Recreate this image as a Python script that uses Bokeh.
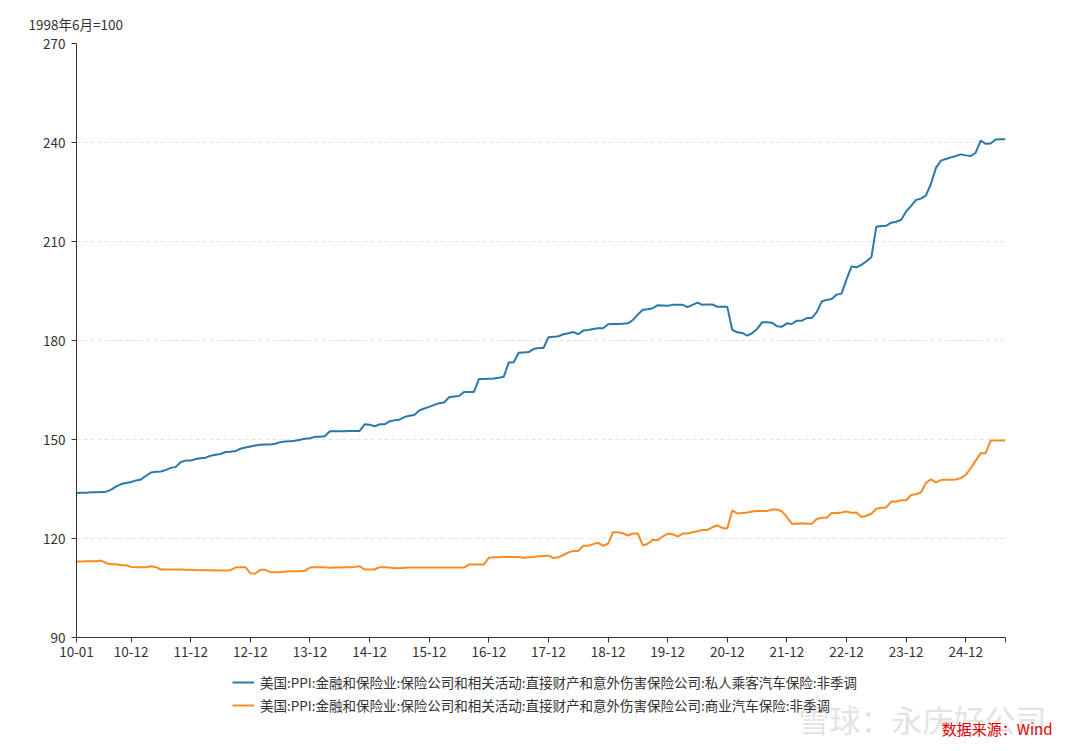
import numpy as np
from bokeh.plotting import figure
from bokeh.layouts import column
from bokeh.models import FixedTicker, Legend, LegendItem, Range1d, Title, Label
from bokeh.embed import file_html
from bokeh.resources import INLINE

# ---- data (monthly, 2010-01 .. 2025-08) ----
start_year = 2010
private_auto = [
    133.8, 133.9, 133.9, 134.0, 134.0, 134.1, 134.2, 134.8, 135.8, 136.5, 136.8, 137.1,  # 2010
    137.6, 137.9, 139.0, 140.0, 140.2, 140.3, 140.8, 141.4, 141.7, 143.2, 143.6, 143.6,  # 2011
    144.1, 144.3, 144.5, 145.1, 145.4, 145.6, 146.2, 146.3, 146.5, 147.2, 147.6, 147.9,  # 2012
    148.2, 148.4, 148.5, 148.5, 148.7, 149.2, 149.4, 149.5, 149.6, 149.9, 150.2, 150.4,  # 2013
    150.8, 150.8, 151.0, 152.5, 152.5, 152.5, 152.5, 152.6, 152.6, 152.6, 154.6, 154.5,  # 2014
    154.0, 154.6, 154.6, 155.5, 155.8, 156.0, 156.8, 157.2, 157.4, 158.8, 159.4, 159.9,  # 2015
    160.5, 161.0, 161.2, 162.8, 163.0, 163.2, 164.4, 164.4, 164.4, 168.3, 168.3, 168.4,  # 2016
    168.5, 168.7, 169.0, 173.3, 173.4, 176.3, 176.4, 176.5, 177.4, 177.7, 177.7, 181.0,  # 2017
    181.1, 181.3, 181.9, 182.2, 182.6, 181.9, 183.0, 183.2, 183.5, 183.7, 183.7, 184.9,  # 2018
    185.0, 185.0, 185.1, 185.2, 186.2, 187.9, 189.3, 189.5, 189.8, 190.7, 190.6, 190.5,  # 2019
    190.8, 190.8, 190.8, 190.1, 190.8, 191.5, 190.8, 190.9, 190.9, 190.2, 190.2, 190.2,  # 2020
    183.2, 182.5, 182.3, 181.5, 182.2, 183.5, 185.5, 185.5, 185.4, 184.3, 184.2, 185.2,  # 2021
    185.0, 186.0, 186.0, 186.8, 186.8, 188.6, 191.8, 192.3, 192.6, 193.9, 194.2, 198.5,  # 2022
    202.4, 202.2, 202.9, 204.0, 205.2, 214.5, 214.7, 214.8, 215.7, 216.0, 216.6, 219.1,  # 2023
    220.8, 222.6, 223.0, 224.0, 227.5, 232.3, 234.5, 235.0, 235.5, 235.9, 236.4, 236.1,  # 2024
    235.9, 236.9, 240.6, 239.6, 239.7, 240.9, 241.0, 241.0,                              # 2025
]
commercial_auto = [
    113.0, 113.0, 113.1, 113.1, 113.1, 113.3, 112.5, 112.2, 112.2, 111.9, 111.9, 111.4,  # 2010
    111.3, 111.3, 111.3, 111.6, 111.3, 110.6, 110.6, 110.6, 110.6, 110.6, 110.5, 110.5,  # 2011
    110.4, 110.4, 110.4, 110.4, 110.3, 110.3, 110.3, 110.4, 111.2, 111.3, 111.3, 109.5,  # 2012
    109.4, 110.5, 110.5, 109.8, 109.8, 109.8, 110.0, 110.1, 110.1, 110.1, 110.2, 111.2,  # 2013
    111.3, 111.3, 111.3, 111.1, 111.2, 111.2, 111.3, 111.3, 111.4, 111.6, 110.6, 110.6,  # 2014
    110.6, 111.3, 111.3, 111.2, 111.0, 111.0, 111.1, 111.2, 111.2, 111.2, 111.2, 111.2,  # 2015
    111.2, 111.2, 111.2, 111.2, 111.2, 111.2, 111.2, 112.1, 112.1, 112.1, 112.1, 114.2,  # 2016
    114.3, 114.3, 114.4, 114.4, 114.4, 114.4, 114.2, 114.3, 114.4, 114.6, 114.7, 114.8,  # 2017
    114.1, 114.3, 115.0, 115.8, 116.2, 116.2, 117.8, 117.8, 118.3, 118.7, 117.8, 118.4,  # 2018
    121.9, 121.9, 121.6, 120.9, 121.5, 121.5, 117.9, 118.4, 119.6, 119.5, 120.6, 121.5,  # 2019
    121.3, 120.6, 121.5, 121.5, 121.9, 122.2, 122.6, 122.6, 123.4, 124.0, 123.2, 123.0,  # 2020
    128.5, 127.6, 127.7, 127.9, 128.2, 128.3, 128.3, 128.3, 128.8, 128.8, 128.2, 126.5,  # 2021
    124.5, 124.5, 124.6, 124.5, 124.5, 125.9, 126.3, 126.3, 127.7, 127.7, 127.9, 128.2,  # 2022
    127.8, 127.9, 126.5, 126.9, 127.5, 129.0, 129.3, 129.4, 131.2, 131.2, 131.6, 131.6,  # 2023
    133.2, 133.4, 134.0, 136.9, 137.9, 137.0, 137.7, 137.8, 137.8, 137.9, 138.3, 139.3,  # 2024
    141.3, 143.6, 145.8, 145.8, 149.7, 149.7, 149.7, 149.7,                              # 2025
]
x_tick_labels = ["10-01", "10-12", "11-12", "12-12", "13-12", "14-12", "15-12", "16-12",
                 "17-12", "18-12", "19-12", "20-12", "21-12", "22-12", "23-12", "24-12"]
y_ticks = [90, 120, 150, 180, 210, 240, 270]
series_names = [
    "美国:PPI:金融和保险业:保险公司和相关活动:直接财产和意外伤害保险公司:私人乘客汽车保险:非季调",
    "美国:PPI:金融和保险业:保险公司和相关活动:直接财产和意外伤害保险公司:商业汽车保险:非季调",
]
y_unit = "1998年6月=100"
source_text = "数据来源：Wind"
watermark = "雪球：永庆好公司"

n = len(private_auto)
month_labels = ["%02d-%02d" % ((start_year + i // 12) % 100, i % 12 + 1) for i in range(n)]
xs = list(range(n))

CJK = "Noto Sans CJK SC"
BLUE = "#2a79a9"
ORANGE = "#f98b22"
TXT = "#333333"
W = 1072
H_TOP = 665
H_BOT = 78

# ---------------- main chart ----------------
p = figure(width=W, height=H_TOP, output_backend="svg", toolbar_location=None,
           x_range=Range1d(0, n - 1), y_range=Range1d(y_ticks[0], y_ticks[-1]),
           min_border_left=76, min_border_right=67, min_border_top=43, min_border_bottom=28)
p.frame_align = False
p.outline_line_color = None
p.background_fill_color = "white"
p.border_fill_color = "white"

p.line(xs, private_auto, line_color=BLUE, line_width=2)
p.line(xs, commercial_auto, line_color=ORANGE, line_width=2)

tick_pos = [month_labels.index(t) for t in x_tick_labels] + [n - 1]
overrides = {pos: lab for pos, lab in zip(tick_pos, x_tick_labels)}
overrides[n - 1] = ""
p.xaxis.ticker = FixedTicker(ticks=tick_pos)
p.xaxis.major_label_overrides = overrides
p.yaxis.ticker = FixedTicker(ticks=y_ticks)

for ax in (p.xaxis, p.yaxis):
    ax.axis_line_color = TXT
    ax.axis_line_width = 1
    ax.major_tick_line_color = TXT
    ax.major_tick_out = 5
    ax.major_tick_in = 0
    ax.minor_tick_line_color = None
    ax.major_label_text_font = CJK
    ax.major_label_text_font_size = "13.5px"
    ax.major_label_text_color = TXT
p.xaxis.major_label_standoff = 4
p.yaxis.major_label_standoff = 6

p.xgrid.grid_line_color = None
p.ygrid.grid_line_color = "#e3e3e3"
p.ygrid.grid_line_dash = "4 3"

p.add_layout(Title(text=y_unit, align="left", offset=-48, standoff=20,
                   text_font=CJK, text_font_size="13.5px", text_font_style="normal",
                   text_color=TXT), "above")

# ---------------- legend / source strip ----------------
q = figure(width=W, height=H_BOT, output_backend="svg", toolbar_location=None,
           x_range=Range1d(0, 1), y_range=Range1d(0, 1), x_axis_type=None, y_axis_type=None,
           min_border_left=0, min_border_right=0, min_border_top=0, min_border_bottom=0)
q.frame_align = False
q.outline_line_color = None
q.xgrid.grid_line_color = None
q.ygrid.grid_line_color = None
# legend-key renderers only (no visible data)
k1 = q.line(np.array([np.nan]), np.array([np.nan]), line_color=BLUE, line_width=2)
k2 = q.line(np.array([np.nan]), np.array([np.nan]), line_color=ORANGE, line_width=2)

q.add_layout(Label(x=798, y=25, x_units="screen", y_units="screen", text=watermark,
                   text_font=CJK, text_font_size="31px", text_color="#dddddd", text_alpha=0.85,
                   text_baseline="middle", text_align="left"))

legend = Legend(items=[LegendItem(label=series_names[0], renderers=[k1]),
                       LegendItem(label=series_names[1], renderers=[k2])],
                location=(232, 28), orientation="vertical",
                glyph_width=22, glyph_height=20, label_height=20, spacing=3,
                padding=0, margin=0, label_standoff=6,
                border_line_color=None, background_fill_alpha=0,
                label_text_font=CJK, label_text_font_size="13.5px", label_text_color=TXT)
q.add_layout(legend)

q.add_layout(Label(x=1052, y=15, x_units="screen", y_units="screen", text=source_text,
                   text_font=CJK, text_font_size="15px", text_color="#e00000",
                   text_baseline="middle", text_align="right"))

layout = column(p, q, spacing=0)
open("out.html", "w").write(file_html(layout, INLINE))
